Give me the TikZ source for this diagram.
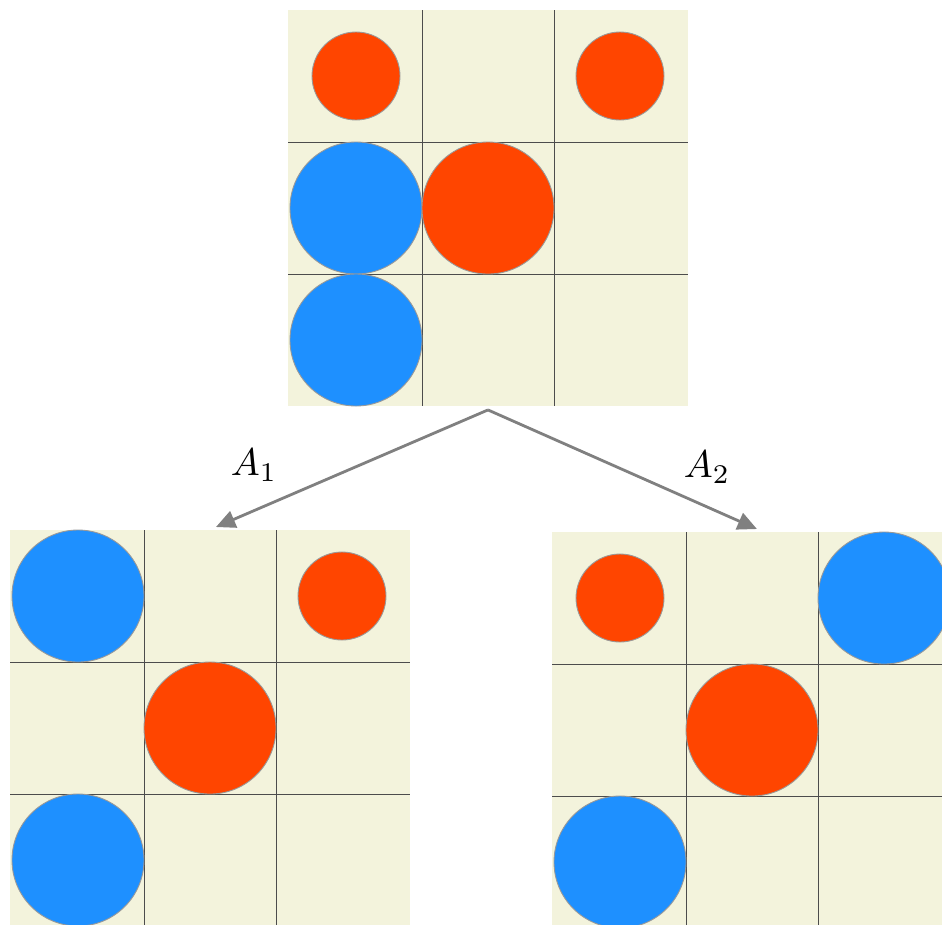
\documentclass[tikz,border=0pt]{standalone}
\usepackage{xcolor}
\usepackage{tikz}
\usetikzlibrary{positioning,arrows.meta}
\definecolor{boardbg}{RGB}{243,243,220}
\definecolor{redpc}{RGB}{255,69,0}
\definecolor{bluepc}{RGB}{30,144,255}

\begin{document}
\begin{tikzpicture}[x=0.02cm, y=-0.02cm, >={Triangle[length=11pt, width=10pt]},
  board/.style={fill=boardbg, minimum width=8cm, minimum height=7.92cm, inner sep=0pt, outer sep=0pt, anchor=north west},
  gridline/.style={black!70, line width=0.5pt},
  piece/.style={draw=black!40, line width=0.5pt},
  move/.style={->, draw=black!50, fill=black!50, line width=1.6pt},
  lbl/.style={scale=2.2, inner sep=0pt}]
\useasboundingbox (0,0) rectangle (942,924);
\clip (0,0) rectangle (942,924);
\def\C{132}
\newcommand{\board}[4]{
  \node[board] (#1) at (#2-2,#3) {};
  \begin{scope}[shift={(#2,#3)}]
    \foreach \k in {1,2}{
      \draw[gridline] (\k*\C,0) -- (\k*\C,3*\C);
      \draw[gridline] (-2,\k*\C) -- (3*\C+2,\k*\C);
    }
    \foreach \cx/\cy/\pc/\pr in {#4}
      \draw[piece, fill=\pc] (\cx*\C+66,\cy*\C+66) circle[radius=\pr];
  \end{scope}
}
\board{root}{290}{10}{0/0/redpc/44, 2/0/redpc/44, 0/1/bluepc/66, 1/1/redpc/66, 0/2/bluepc/66}
\board{left}{12}{530}{0/0/bluepc/66, 2/0/redpc/44, 1/1/redpc/66, 0/2/bluepc/66}
\board{right}{554}{532}{0/0/redpc/44, 2/0/bluepc/66, 1/1/redpc/66, 0/2/bluepc/66}
\draw[move] ([yshift=-0.08cm]root.south) -- ([xshift=0.12cm, yshift=0.06cm]left.north);
\draw[move] ([yshift=-0.08cm]root.south) -- ([xshift=0.1cm, yshift=0.06cm]right.north);
\node[lbl] (a1) at (254,465) {$A_1$};
\node[lbl] (a2) at (707,467) {$A_2$};
\end{tikzpicture}
\end{document}
